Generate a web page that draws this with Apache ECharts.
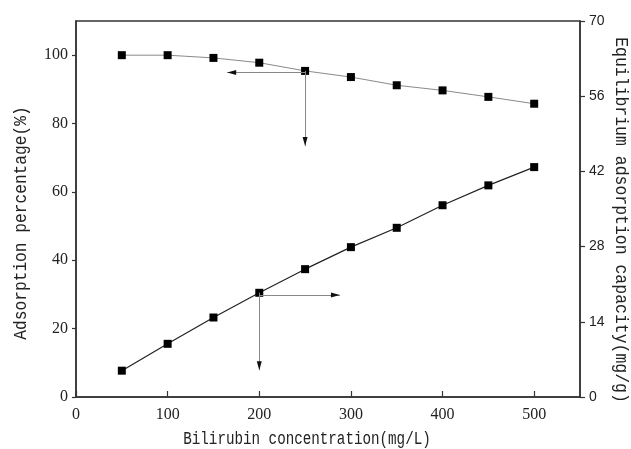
<!DOCTYPE html>
<html>
<head>
<meta charset="utf-8">
<script src="https://cdn.jsdelivr.net/npm/echarts@6/dist/echarts.min.js"></script>
<style>
  html, body { margin: 0; padding: 0; background: #fff; }
  #chart { width: 631px; height: 449px; }
</style>
</head>
<body>
<div id="chart"></div>
<script>
// Bilirubin concentration (mg/L)
const concentrations = [50, 100, 150, 200, 250, 300, 350, 400, 450, 500];
// Adsorption percentage (%), left axis
const adsorptionPercent = [100, 100, 99.2, 97.8, 95.4, 93.6, 91.2, 89.7, 87.8, 85.8];
// Equilibrium adsorption capacity (mg/g), right axis
const adsorptionCapacity = [4.9, 9.9, 14.8, 19.4, 23.8, 27.9, 31.5, 35.7, 39.4, 42.8];

const xTicks = [0, 100, 200, 300, 400, 500];
const leftTicks = [0, 20, 40, 60, 80, 100];
const rightTicks = [0, 14, 28, 42, 56, 70];

const xTitle = 'Bilirubin concentration(mg/L)';
const leftTitle = 'Adsorption percentage(%)';
const rightTitle = 'Equilibrium adsorption capacity(mg/g)';

// Guide arrows pointing each curve to its own axis
const percentArrows = [
  [[250, 94.9], [165, 94.9]],
  [[250, 95.4], [250, 73.4]]
];
const capacityArrows = [
  [[200, 19.0], [288, 19.0]],
  [[200, 19.4], [200, 5.0]]
];

const serifFont = '"Liberation Serif", "DejaVu Serif", serif';
const monoFont = '"Liberation Mono", "DejaVu Sans Mono", monospace';
const axisColor = '#333';

const pair = (xs, ys) => xs.map((x, i) => [x, ys[i]]);
const arrowLines = (arr) => arr.map(([a, b]) => [{ coord: a }, { coord: b }]);

// Slim filled arrowhead with its tip at the centre of an 18x18 box
const slimArrow = 'path://M0,0 L2.5,9 L-2.5,9 Z M-9,-9 L-9,-9 M9,9 L9,9';

// Gray shafts of the guide arrows
const shaftMark = (arr) => ({
  silent: true,
  animation: false,
  symbol: ['none', 'none'],
  label: { show: false },
  lineStyle: { color: '#888', width: 1, type: 'solid' },
  emphasis: { disabled: true },
  data: arrowLines(arr)
});

// Dark heads placed on the same segments
const headMark = (arr) => ({
  silent: true,
  animation: false,
  symbol: ['none', slimArrow],
  symbolSize: 18,
  label: { show: false },
  lineStyle: { color: '#111', width: 0, type: 'solid' },
  emphasis: { disabled: true },
  data: arrowLines(arr)
});

// Axis titles: narrow, tall monospaced lettering
const titleText = (text, x, y, rotation, size, scaleX) => ({
  type: 'text',
  x, y, rotation, scaleX,
  silent: true,
  style: {
    text,
    font: size + 'px ' + monoFont,
    fill: '#222',
    textAlign: 'center',
    textVerticalAlign: 'middle'
  }
});

const chart = echarts.init(document.getElementById('chart'), null, { renderer: 'canvas' });

chart.setOption({
  backgroundColor: '#fff',
  animation: false,
  grid: {
    left: 76, right: 51, top: 21, bottom: 52,
    show: true, borderColor: axisColor, borderWidth: 1.5,
    containLabel: false,
    outerBoundsMode: 'none'
  },
  graphic: [
    titleText(xTitle, 307, 439, 0, 18, 0.79),
    titleText(leftTitle, 21, 223, Math.PI / 2, 18, 0.9),
    titleText(rightTitle, 621, 220, -Math.PI / 2, 18, 0.915)
  ],
  xAxis: {
    type: 'value',
    min: 0, max: 550, interval: 50,
    axisLine: { show: true, lineStyle: { color: axisColor, width: 1.5 } },
    axisTick: { show: true, inside: true, length: 6, customValues: xTicks, lineStyle: { color: axisColor, width: 1.2 } },
    axisLabel: { customValues: xTicks, margin: 10, fontFamily: serifFont, fontSize: 16, color: '#222' },
    splitLine: { show: false }
  },
  yAxis: [
    {
      type: 'value',
      position: 'left',
      min: 0, max: 110, interval: 10,
      axisLine: { show: true, lineStyle: { color: axisColor, width: 1.5 } },
      axisTick: { show: true, inside: false, length: 4, customValues: leftTicks, lineStyle: { color: axisColor, width: 1.2 } },
      axisLabel: { customValues: leftTicks, margin: 8, fontFamily: serifFont, fontSize: 16, color: '#222' },
      splitLine: { show: false }
    },
    {
      type: 'value',
      position: 'right',
      min: 0, max: 70, interval: 14,
      axisLine: { show: true, lineStyle: { color: axisColor, width: 1.5 } },
      axisTick: { show: true, inside: false, length: 5, customValues: rightTicks, lineStyle: { color: axisColor, width: 1.2 } },
      axisLabel: { customValues: rightTicks, margin: 9, fontFamily: '"Liberation Sans", Arial, sans-serif', fontSize: 14, color: '#222' },
      splitLine: { show: false }
    }
  ],
  series: [
    {
      name: 'Adsorption percentage',
      type: 'line',
      yAxisIndex: 0,
      data: pair(concentrations, adsorptionPercent),
      symbol: 'rect',
      symbolSize: 8,
      itemStyle: { color: '#000' },
      lineStyle: { color: '#8a8a8a', width: 1 },
      markLine: shaftMark(percentArrows),
      z: 3
    },
    {
      name: 'Equilibrium adsorption capacity',
      type: 'line',
      yAxisIndex: 1,
      data: pair(concentrations, adsorptionCapacity),
      symbol: 'rect',
      symbolSize: 8,
      itemStyle: { color: '#000' },
      lineStyle: { color: '#222', width: 1.2 },
      markLine: shaftMark(capacityArrows),
      z: 3
    },
    {
      name: 'percent-arrow-heads',
      type: 'line',
      yAxisIndex: 0,
      data: [],
      markLine: headMark(percentArrows),
      z: 4
    },
    {
      name: 'capacity-arrow-heads',
      type: 'line',
      yAxisIndex: 1,
      data: [],
      markLine: headMark(capacityArrows),
      z: 4
    }
  ]
});
</script>
</body>
</html>
